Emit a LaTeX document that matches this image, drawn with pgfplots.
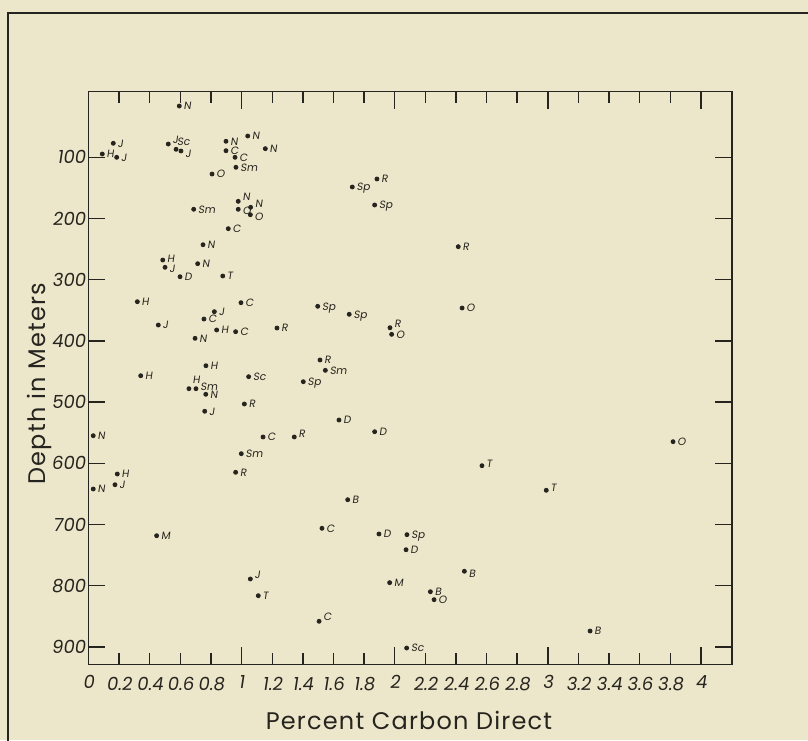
\documentclass[border=0pt]{standalone}
\usepackage{pgfplots}
\pgfplotsset{compat=1.18}
\usepackage{pgfplotstable}
\usepackage{fontspec}
\setmainfont{Poppins}
\newfontfamily\lab[FakeSlant=0.15]{Poppins}
\newfontfamily\ttl[LetterSpace=5]{Poppins}
\definecolor{paper}{RGB}{236,230,202}
\definecolor{ink}{RGB}{38,36,30}

\pgfplotstableread{
x y lab dy dx
0.593 16.2 N 0 0
0.162 77.1 J 0 0
0.090 94.6 H 0 0
0.184 100.0 J 0 0
0.521 78.3 J 2.3 0
0.572 86.9 Sc 3.8 -1.65
0.604 89.7 J -1.5 0
0.898 73.8 N 0 0
1.040 65.2 N 0 0
1.155 85.9 N 0 0
0.898 89.2 C 0 0
0.957 100.0 C 0 0
0.963 116.3 Sm 0 0
0.807 127.3 O 0 0
0.978 171.9 N 2.3 0
0.978 184.9 O -0.8 0
1.059 181.7 N 1.8 0
1.057 193.8 O -1.2 0
0.687 184.9 Sm 0 0
0.913 216.6 C 0 0
0.748 242.8 N 0 0
0.485 267.8 H 0.5 0
0.500 279.7 J -0.5 0
0.713 273.8 N 0 0
0.598 295.1 D 0 0
0.877 293.9 T 0 0
0.319 335.9 H 0 0
0.996 337.5 C 0 0
0.822 352.2 J 0 0
0.754 364.2 C 0 0
0.456 374.0 J 0 0
0.837 382.1 H 0 0
0.961 384.9 C 0 0
1.231 378.9 R 0 0
0.696 395.7 N 0 0
0.767 440.5 H 0 0
0.341 456.8 H 0 0
1.046 458.4 Sc 0 0
1.403 466.6 Sp 0 0
0.656 478.0 H 4.35 -0.35
0.702 478.0 Sm 1 0
0.766 487.2 N 0 0
0.759 514.9 J 0 0
1.018 503.0 R 0 0
0.031 554.8 N 0 0
1.140 556.9 C 0 0
1.344 556.9 R 1.5 0
0.998 584.2 Sm 0 0
0.188 617.4 H 0 0
0.173 634.9 J 0 0
0.031 641.9 N 0 0
0.961 614.6 R 0 0
0.445 718.2 M 0 0
1.057 788.9 J 2.3 0
1.109 816.2 T 0 0
1.497 343.4 Sp 0 0
1.703 356.5 Sp 0 0
2.440 346.2 O 0 0
1.969 378.4 R 1.8 0
1.980 389.2 O 0 0
1.512 431.1 R 0 0
1.547 448.0 Sm 0 0
1.636 529.2 D 0 0
1.869 548.3 D 0 0
2.570 603.8 T 1.2 0
1.723 148.5 Sp 0 0
1.884 135.4 R 0 0
1.869 177.9 Sp 0 0
2.415 246.0 R 0 0
1.693 659.4 B 0 0
1.525 706.1 C 0 0
1.897 715.4 D 0 0
2.080 716.5 Sp 0 0
2.074 741.1 D 0 0
1.967 794.9 M 0 0
2.455 776.3 B -1 0
2.233 809.7 B 0 0
2.257 822.7 O 0 0
1.506 858.0 C 2.3 0
2.078 901.7 Sc 0 0
3.818 564.6 O 0 0
2.990 644.0 T 1.3 0
3.276 873.9 B 0 0
}\pts

\begin{document}
\begin{tikzpicture}
\fill[paper] (-44.25pt,-37.85pt) rectangle (359.75pt,332.15pt);
\useasboundingbox (-44.25pt,-37.85pt) rectangle (359.75pt,332.15pt);
\draw[ink,line width=0.9pt] (-40.25pt,-40pt) -- (-40.25pt,325.65pt) -- (362pt,325.65pt);
\begin{axis}[
  at={(0,0)}, anchor=south west,
  scale only axis, width=321.75pt, height=286.3pt,
  xmin=0, xmax=4.203, ymin=-7.2, ymax=928.3,
  y dir=reverse,
  axis line style={ink, line width=0.8pt},
  tick align=inside, tick pos=both, ticklabel pos=left,
  every tick/.style={ink, line width=0.7pt},
  major tick length=8.5pt,
  xtick={0,1,2,3,4}, xticklabels={0,1,2,3,4},
  x tick label style={font=\lab\fontsize{9}{10}\selectfont, text=ink, yshift=-2pt},
  extra x ticks={0.2,0.4,0.6,0.8,1.2,1.4,1.6,1.8,2.2,2.4,2.6,2.8,3.2,3.4,3.6,3.8},
  extra x tick labels={0.2,0.4,0.6,0.8,1.2,1.4,1.6,1.8,2.2,2.4,2.6,2.8,3.2,3.4,3.6,3.8},
  extra x tick style={major tick length=5.5pt, tick label style={font=\lab\fontsize{6}{7}\selectfont, yshift=-1pt}},
  ytick={100,200,300,400,500,600,700,800,900},
  yticklabels={100,200,300,400,500,600,700,800,900},
  y tick label style={font=\lab\fontsize{9}{10}\selectfont, text=ink, xshift=2pt},
  xlabel={\ttl\fontsize{12}{14}\selectfont Percent Carbon Direct},
  xlabel style={at={(axis description cs:0.498,-0.0973)}, anchor=center, text=ink},
  ylabel={\ttl\fontsize{12}{14}\selectfont Depth in Meters},
  ylabel style={at={(axis description cs:-0.0754,0.49)}, anchor=center, text=ink},
]
\addplot[only marks, mark=*, mark size=1pt, color=ink,
  nodes near coords, point meta=explicit symbolic,
  visualization depends on={\thisrow{dy} \as \labdy},
  visualization depends on={\thisrow{dx} \as \labdx},
  every node near coord/.append style={font=\lab\fontsize{5.3}{6}\selectfont, text=ink, anchor=base west, inner sep=0pt, text height=0.68em, text depth=0pt, xshift={(2+(\labdx))*1pt}, yshift={((\labdy)-1.9)*1pt}}]
  table[x=x, y=y, meta=lab]{\pts};
\end{axis}
\end{tikzpicture}
\end{document}
